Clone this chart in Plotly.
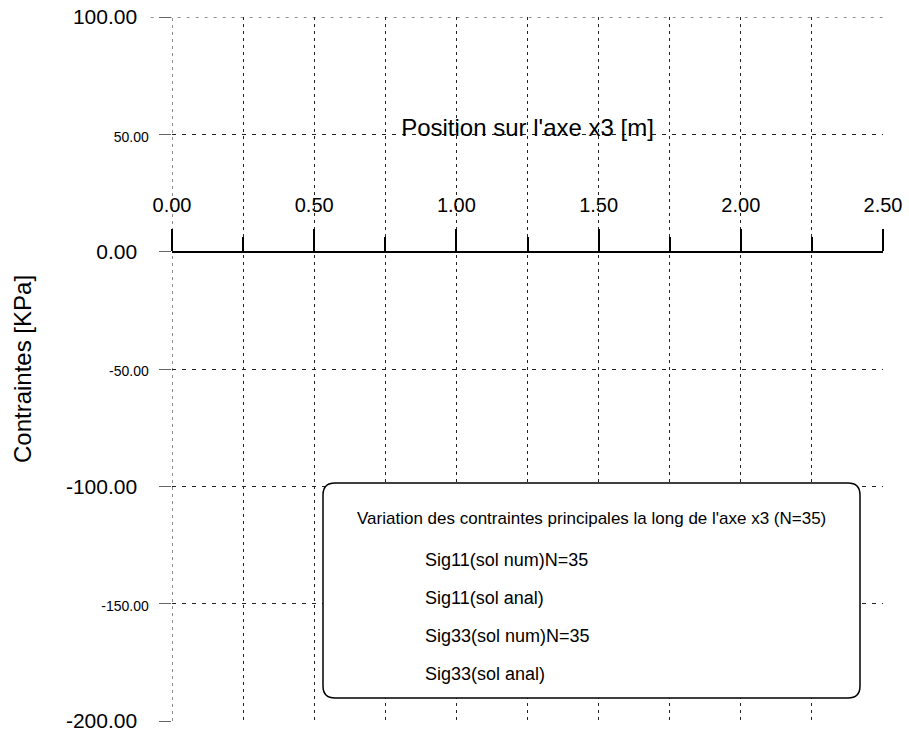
import plotly.graph_objects as go

# Position along the x3 axis [m] and principal stresses [KPa]
x3_pos = [0.00, 0.25, 0.50, 0.75, 1.00, 1.25, 1.50, 1.75, 2.00, 2.25, 2.50]
sig11_num = [0.0, 0.0, 0.0, 0.0, 0.0, 0.0, 0.0, 0.0, 0.0, 0.0, 0.0]
sig11_anal = [0.0, 0.0, 0.0, 0.0, 0.0, 0.0, 0.0, 0.0, 0.0, 0.0, 0.0]
sig33_num = [0.0, 0.0, 0.0, 0.0, 0.0, 0.0, 0.0, 0.0, 0.0, 0.0, 0.0]
sig33_anal = [0.0, 0.0, 0.0, 0.0, 0.0, 0.0, 0.0, 0.0, 0.0, 0.0, 0.0]

series_names = ["Sig11(sol num)N=35", "Sig11(sol anal)", "Sig33(sol num)N=35", "Sig33(sol anal)"]
series_values = [sig11_num, sig11_anal, sig33_num, sig33_anal]
legend_title = "Variation des contraintes principales la long de l'axe x3 (N=35)"

x_tick_vals = [0.0, 0.5, 1.0, 1.5, 2.0, 2.5]
x_tick_text = ["0.00", "0.50", "1.00", "1.50", "2.00", "2.50"]
x_minor_vals = [0.25, 0.75, 1.25, 1.75, 2.25]
y_tick_vals = [100, 50, 0, -50, -100, -150, -200]
y_tick_text = ["100.00", "50.00", "0.00", "-50.00", "-100.00", "-150.00", "-200.00"]
y_small_ticks = [50, -50, -150]

FONT = "Liberation Sans, Arial, sans-serif"
W, H = 909, 734
ML, MR, MT, MB = 172, 26, 17, 13
PW, PH = W - ML - MR, H - MT - MB
GRID = "#222"


def px_to_paper_x(px):
    return (px - ML) / PW


def px_to_paper_y(py):
    return 1 - (py - MT) / PH


fig = go.Figure()
for name, vals in zip(series_names, series_values):
    fig.add_trace(go.Scatter(x=x3_pos, y=vals, mode="lines", name=name,
                             line=dict(color="black", width=1.5), showlegend=False))

# Large labels carry a trailing gap so the small ones sit further right
ytext = []
for v, t in zip(y_tick_vals, y_tick_text):
    if v in y_small_ticks:
        ytext.append('<span style="font-size:14px">' + t + '</span>')
    else:
        ytext.append(t + "\u00a0\u00a0")

y_min, y_max = -200, 100

fig.update_layout(
    width=W, height=H, autosize=False,
    margin=dict(l=ML, r=MR, t=MT, b=MB),
    paper_bgcolor="white", plot_bgcolor="white",
    font=dict(family=FONT, color="black"),
    xaxis=dict(
        range=[0, 2.5], side="top", anchor="free",
        position=(0 - y_min) / (y_max - y_min),
        tickmode="array", tickvals=x_tick_vals, ticktext=x_tick_text,
        tickfont=dict(size=20), ticks="outside", ticklen=22, tickwidth=1.5,
        tickcolor="black", ticklabelstandoff=9,
        showgrid=True, gridcolor=GRID, gridwidth=1, griddash="3px,4px",
        minor=dict(tickmode="array", tickvals=x_minor_vals, showgrid=True,
                   gridcolor=GRID, gridwidth=1, griddash="3px,4px",
                   ticks="outside", ticklen=14, tickwidth=1.5, tickcolor="black"),
        zeroline=False, showline=True, linecolor="black", linewidth=1.5,
        title=dict(text="Position sur l'axe x3 [m]", font=dict(size=24), standoff=50),
        automargin=False,
    ),
    yaxis=dict(
        range=[y_min, y_max], domain=[0, 1],
        tickmode="array", tickvals=y_tick_vals, ticktext=ytext,
        tickfont=dict(size=21), ticks="outside", ticklen=12, tickwidth=1,
        tickcolor="#666", ticklabelstandoff=6,
        showgrid=True, gridcolor=GRID, gridwidth=1, griddash="4px,6px",
        zeroline=True, zerolinecolor="black", zerolinewidth=1.5,
        showline=False,
        title=dict(text="Contraintes [KPa]", font=dict(size=24), standoff=27),
        automargin=False,
    ),
)

# Dotted frame edges at x = 0 and y = 100
fig.add_shape(type="line", xref="x", yref="paper", x0=0, x1=0, y0=0, y1=1,
              line=dict(color=GRID, width=1, dash="3px,4px"), layer="below")
fig.add_shape(type="line", xref="paper", yref="y", x0=-0.03, x1=1, y0=100, y1=100,
              line=dict(color=GRID, width=1, dash="3px,6px"), layer="below")

# Rounded legend frame
bx0, bx1 = px_to_paper_x(323), px_to_paper_x(860)
by0, by1 = px_to_paper_y(698), px_to_paper_y(483)
rx, ry = 12 / PW, 12 / PH
path = (f"M {bx0 + rx} {by1} L {bx1 - rx} {by1} Q {bx1} {by1} {bx1} {by1 - ry} "
        f"L {bx1} {by0 + ry} Q {bx1} {by0} {bx1 - rx} {by0} "
        f"L {bx0 + rx} {by0} Q {bx0} {by0} {bx0} {by0 + ry} "
        f"L {bx0} {by1 - ry} Q {bx0} {by1} {bx0 + rx} {by1} Z")
fig.add_shape(type="path", path=path, xref="paper", yref="paper",
              fillcolor="white", line=dict(color="black", width=1.5), layer="above")

fig.add_annotation(text=legend_title, xref="paper", yref="paper",
                   x=px_to_paper_x(591), y=px_to_paper_y(518),
                   xanchor="center", yanchor="middle", showarrow=False,
                   font=dict(size=17, color="black"))
for i, name in enumerate(series_names):
    fig.add_annotation(text=name, xref="paper", yref="paper",
                       x=px_to_paper_x(423), y=px_to_paper_y(560 + 38 * i),
                       xanchor="left", yanchor="middle", showarrow=False,
                       font=dict(size=18, color="black"))

fig.write_html("out.html")
